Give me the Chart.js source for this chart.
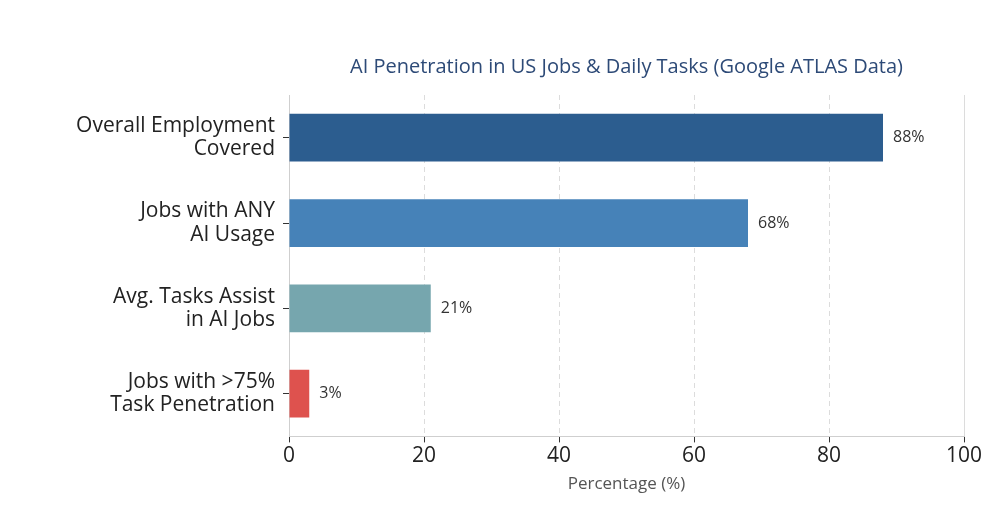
<!DOCTYPE html>
<html>
<head>
<meta charset="utf-8">
<script src="https://cdn.jsdelivr.net/npm/chart.js@4.4.1/dist/chart.umd.min.js"></script>
<style>
  html, body { margin: 0; padding: 0; background: #fff; }
  #wrap { width: 1000px; height: 509px; }
</style>
</head>
<body>
<div id="wrap"><canvas id="grafico"></canvas></div>
<script>
const categorias = [
  ['Overall Employment', 'Covered'],
  ['Jobs with ANY', 'AI Usage'],
  ['Avg. Tasks Assist', 'in AI Jobs'],
  ['Jobs with >75%', 'Task Penetration']
];
const valores = [88, 68, 21, 3];
const cores = ['#2c5d8f', '#4682b8', '#76a6ae', '#de524e'];
const ticksX = [0, 20, 40, 60, 80, 100];

const fonte = "'Open Sans', 'DejaVu Sans', sans-serif";

// escreve o valor ao lado de cada barra
const rotulosBarras = {
  id: 'rotulosBarras',
  afterDatasetsDraw(chart) {
    const ctx = chart.ctx;
    const meta = chart.getDatasetMeta(0);
    ctx.save();
    ctx.font = `16px ${fonte}`;
    ctx.fillStyle = '#333';
    ctx.textAlign = 'left';
    ctx.textBaseline = 'middle';
    meta.data.forEach((barra, i) => {
      ctx.fillText(`${valores[i]}%`, barra.x + 10, barra.y);
    });
    ctx.restore();
  }
};

new Chart(document.getElementById('grafico'), {
  type: 'bar',
  data: {
    labels: categorias,
    datasets: [{
      data: valores,
      backgroundColor: cores,
      barPercentage: 0.56,
      categoryPercentage: 1
    }]
  },
  options: {
    indexAxis: 'y',
    responsive: true,
    maintainAspectRatio: false,
    animation: false,
    layout: { padding: { left: 0, right: 36, top: 0, bottom: 15 } },
    plugins: {
      legend: { display: false },
      tooltip: { enabled: false },
      title: {
        display: true,
        fullSize: false,
        text: 'AI Penetration in US Jobs & Daily Tasks (Google ATLAS Data)',
        color: '#2d4a77',
        font: { family: fonte, size: 20, weight: 'normal' },
        padding: { top: 55, bottom: 16 }
      }
    },
    scales: {
      x: {
        min: 0,
        max: 100,
        afterBuildTicks: (eixo) => { eixo.ticks = ticksX.map(v => ({ value: v })); },
        grid: {
          color: (c) => c.tick && c.tick.value === 0 ? 'rgba(0,0,0,0)' : '#dcdcdc',
          tickColor: '#333',
          tickLength: 6,
          lineWidth: 1
        },
        border: {
          display: true,
          color: '#cfcfcf',
          dash: (c) => c.tick && c.tick.value === 100 ? [] : [5, 4]
        },
        ticks: {
          color: '#222',
          padding: 1,
          font: { family: fonte, size: 21 }
        },
        title: {
          display: true,
          text: 'Percentage (%)',
          color: '#555',
          font: { family: fonte, size: 17 },
          padding: { top: 4, bottom: 0 }
        }
      },
      y: {
        afterFit: (eixo) => { eixo.width = 289; },
        grid: {
          offset: false,
          drawOnChartArea: false,
          drawTicks: true,
          tickLength: 6,
          tickColor: '#333'
        },
        border: { display: true, color: '#cfcfcf' },
        ticks: {
          color: '#222',
          padding: 8,
          font: { family: fonte, size: 21, lineHeight: 1.1 }
        }
      }
    }
  },
  plugins: [rotulosBarras]
});
</script>
</body>
</html>
